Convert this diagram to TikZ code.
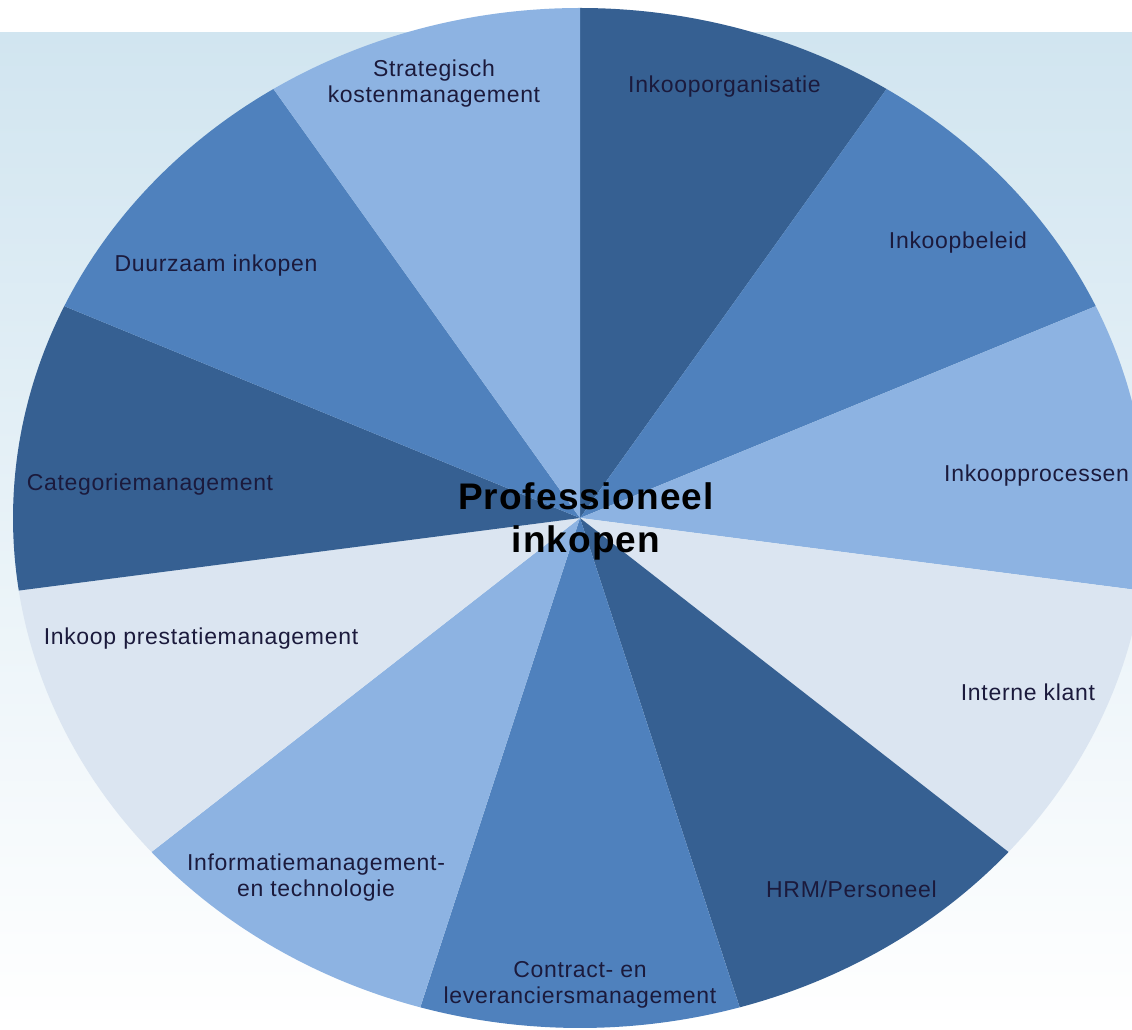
\documentclass[tikz,border=0pt]{standalone}
\usepackage{fontspec}
\usetikzlibrary{calc}
\setmainfont{Liberation Sans}
\newfontfamily\labelfont{Liberation Sans}[LetterSpace=3]
\newfontfamily\titlefont{Liberation Sans}[LetterSpace=3]
\definecolor{bgtop}{HTML}{D1E5F0}
\definecolor{bgmid}{HTML}{E8F2F7}
\definecolor{pieA}{HTML}{366092}
\definecolor{pieB}{HTML}{4F81BD}
\definecolor{pieC}{HTML}{8DB3E2}
\definecolor{pieD}{HTML}{DBE5F1}
\definecolor{labeltext}{HTML}{1B1A3C}
\tikzset{
  seglabel/.style={text=labeltext, align=center, inner sep=0pt,
    font=\labelfont\fontsize{23}{26}\selectfont},
  hubtitle/.style={text=black, align=center, inner sep=0pt,
    font=\titlefont\bfseries\fontsize{37}{43}\selectfont},
}
\begin{document}
\begin{tikzpicture}[x=1pt,y=1pt]
  \useasboundingbox (0,0) rectangle (1132,1029);
  \clip (0,0) rectangle (1132,1029);
  % page background: white band on top, pale blue fading to white below
  \fill[white] (0,0) rectangle (1132,1029);
  \shade[top color=bgtop, middle color=bgmid, bottom color=white]
    (0,0) rectangle (1132,996);
  % eleven equal wedges of an elliptical pie, clockwise from the top
  \coordinate (hub) at (580,511);
  \foreach \k/\col in {0/pieA,1/pieB,2/pieC,3/pieD,4/pieA,5/pieB,6/pieC,7/pieD,8/pieA,9/pieB,10/pieC}{
    \pgfmathsetmacro{\aS}{90-\k*360/11}
    \pgfmathsetmacro{\aE}{90-(\k+1)*360/11}
    \fill[\col] (hub) -- ($(hub)+(\aS:567 and 510)$)
      arc[start angle=\aS, end angle=\aE, x radius=567, y radius=510] -- cycle;
  }
  % wedge captions
  \node[seglabel] (strat)    at (434,945.5) {Strategisch\\kostenmanagement};
  \node[seglabel] (org)      at (724.5,942) {Inkooporganisatie};
  \node[seglabel] (beleid)   at (958,786) {Inkoopbeleid};
  \node[seglabel,anchor=west] (proc) at (944,553) {Inkoopprocessen};
  \node[seglabel] (intern)   at (1028,337) {Interne klant};
  \node[seglabel] (hrm)      at (851.5,140) {HRM/Personeel};
  \node[seglabel] (contract) at (580,44) {Contract- en\\leveranciersmanagement};
  \node[seglabel] (info)     at (316,151) {Informatiemanagement-\\en technologie};
  \node[seglabel] (prest)    at (201,390) {Inkoop prestatiemanagement};
  \node[seglabel] (cat)      at (150,544) {Categoriemanagement};
  \node[seglabel] (duurz)    at (216,763) {Duurzaam inkopen};
  % central title
  \node[hubtitle] (title) at (586,508) {Professioneel\\inkopen};
\end{tikzpicture}
\end{document}
